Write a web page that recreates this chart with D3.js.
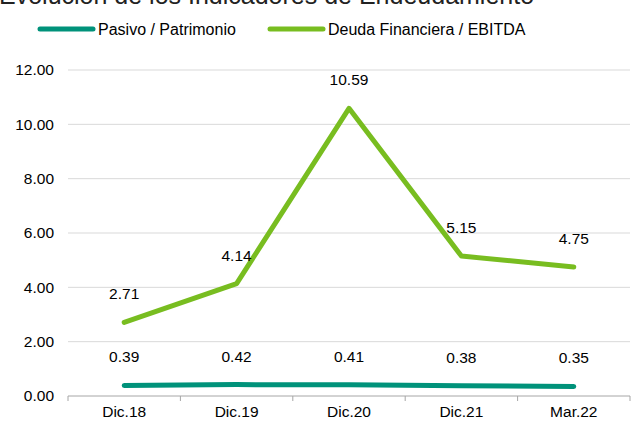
<!DOCTYPE html>
<html lang="es">
<head>
  <meta charset="UTF-8">
  <title>Evolución de los Indicadores de Endeudamiento</title>
  <style>
    body { margin: 0; padding: 0; background: #ffffff; }
    svg { display: block; font-family: "Liberation Sans", Arial, sans-serif; }
  </style>
</head>
<body>
<div id="chart"></div>
<script src="https://d3js.org/d3.v7.min.js"></script>
<script>
  const categories = ["Dic.18", "Dic.19", "Dic.20", "Dic.21", "Mar.22"];
  const pasivoPatrimonio = [0.39, 0.42, 0.41, 0.38, 0.35];
  const deudaEbitda = [2.71, 4.14, 10.59, 5.15, 4.75];
  const yTicks = [0, 2, 4, 6, 8, 10, 12];

  const width = 632, height = 423;
  const margin = { top: 70, right: 2, bottom: 27, left: 68 };
  const fs = 15.5;

  const svg = d3.select("#chart").append("svg")
    .attr("width", width)
    .attr("height", height);

  // title, cut off at the top in the source
  svg.append("text")
    .attr("x", -1)
    .attr("y", 4)
    .attr("font-size", 25)
    .attr("fill", "#222")
    .text("Evolución de los Indicadores de Endeudamiento");

  const x = d3.scaleBand()
    .domain(categories)
    .range([margin.left, width - margin.right]);

  const y = d3.scaleLinear()
    .domain([0, 12])
    .range([height - margin.bottom, margin.top]);

  // gridlines
  svg.append("g")
    .selectAll("line")
    .data(yTicks.filter(d => d > 0))
    .join("line")
    .attr("x1", margin.left)
    .attr("x2", width - margin.right)
    .attr("y1", d => y(d))
    .attr("y2", d => y(d))
    .attr("stroke", "#d9d9d9")
    .attr("stroke-width", 1);

  // y axis labels
  svg.append("g")
    .selectAll("text")
    .data(yTicks)
    .join("text")
    .attr("x", 54)
    .attr("y", d => y(d))
    .attr("dy", "0.35em")
    .attr("text-anchor", "end")
    .attr("font-size", fs)
    .attr("fill", "#000")
    .text(d => d.toFixed(2));

  // x axis
  const xAxis = svg.append("g")
    .attr("transform", `translate(0,${y(0)})`);
  xAxis.append("line")
    .attr("x1", margin.left)
    .attr("x2", width - margin.right)
    .attr("stroke", "#a6a6a6");
  const edges = categories.map(c => x(c)).concat([x(categories[categories.length - 1]) + x.bandwidth()]);
  xAxis.selectAll(".tk")
    .data(edges)
    .join("line")
    .attr("class", "tk")
    .attr("x1", d => d)
    .attr("x2", d => d)
    .attr("y1", 0)
    .attr("y2", 5)
    .attr("stroke", "#a6a6a6");
  xAxis.selectAll("text")
    .data(categories)
    .join("text")
    .attr("x", d => x(d) + x.bandwidth() / 2)
    .attr("y", 21)
    .attr("text-anchor", "middle")
    .attr("font-size", fs)
    .attr("fill", "#000")
    .text(d => d);

  const series = [
    { name: "Pasivo / Patrimonio", values: pasivoPatrimonio, color: "#00927a" },
    { name: "Deuda Financiera / EBITDA", values: deudaEbitda, color: "#78bd20" }
  ];

  const line = d3.line()
    .x((d, i) => x(categories[i]) + x.bandwidth() / 2)
    .y(d => y(d));

  series.forEach(s => {
    svg.append("path")
      .datum(s.values)
      .attr("d", line)
      .attr("fill", "none")
      .attr("stroke", s.color)
      .attr("stroke-width", 5)
      .attr("stroke-linecap", "round")
      .attr("stroke-linejoin", "round");

    svg.append("g")
      .selectAll("text")
      .data(s.values)
      .join("text")
      .attr("x", (d, i) => x(categories[i]) + x.bandwidth() / 2)
      .attr("y", d => y(d) - 23)
      .attr("text-anchor", "middle")
      .attr("font-size", fs)
      .attr("fill", "#000")
      .text(d => d.toFixed(2));
  });

  // legend
  const legendX = [38, 268];
  const legend = svg.append("g")
    .selectAll("g")
    .data(series)
    .join("g")
    .attr("transform", (d, i) => `translate(${legendX[i]},29)`);
  legend.append("line")
    .attr("x1", 2)
    .attr("x2", 55)
    .attr("stroke", d => d.color)
    .attr("stroke-width", 5)
    .attr("stroke-linecap", "round");
  legend.append("text")
    .attr("x", 60)
    .attr("dy", "0.35em")
    .attr("font-size", 16)
    .attr("fill", "#000")
    .text(d => d.name);
</script>
</body>
</html>
